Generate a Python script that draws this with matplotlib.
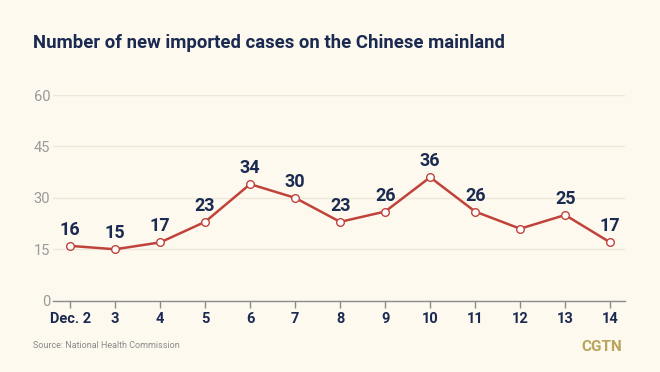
import matplotlib
matplotlib.use('Agg')
import matplotlib.pyplot as plt
from matplotlib import font_manager

# ─── Data ─────────────────────────────────────────────────────────────────────
DAYS   = ['Dec. 2', '3', '4', '5', '6', '7', '8', '9', '10', '11', '12', '13', '14']
CASES  = [16, 15, 17, 23, 34, 30, 23, 26, 36, 26, 21, 25, 17]
SHOWN  = [True] * 10 + [False, True, True]   # day 12 has no label
YTICKS = [0, 15, 30, 45, 60]

# ─── Colours ──────────────────────────────────────────────────────────────────
BG    = '#fdf9ee'
NAVY  = '#1b2a50'
RED   = '#c0433b'
GRID  = '#ede8da'
GREY  = '#9a9a9a'
GOLD  = '#b9a45c'

names = {f.name for f in font_manager.fontManager.ttflist}
NARROW = 'Liberation Sans Narrow' if 'Liberation Sans Narrow' in names else 'Roboto'

plt.rcParams['font.family'] = [NARROW, 'DejaVu Sans']

fig = plt.figure(figsize=(6.6, 3.72), dpi=100)
fig.patch.set_facecolor(BG)
ax = fig.add_axes([0.0803, 0.1917, 0.8667, 0.5529])
ax.set_facecolor(BG)

x = list(range(len(DAYS)))
ax.plot(x, CASES, color=RED, lw=1.8, marker='o', ms=5.5,
        mfc='white', mec=RED, mew=1.0, zorder=3, clip_on=False)

for xi, v, show in zip(x, CASES, SHOWN):
    if show:
        ax.annotate(str(v), (xi, v), xytext=(0, 5), textcoords='offset points',
                    ha='center', va='bottom', fontsize=13, fontweight='bold',
                    color=NAVY)

ax.set_xlim(-0.38, 12.33)
ax.set_ylim(0, 60)
ax.set_yticks(YTICKS)
ax.set_xticks(x)
ax.set_xticklabels(DAYS)
ax.grid(axis='y', color=GRID, lw=1.0, zorder=0)
for s in ('top', 'right', 'left'):
    ax.spines[s].set_visible(False)
ax.spines['bottom'].set_color('#8c8c8c')
ax.spines['bottom'].set_linewidth(1.0)
ax.tick_params(axis='y', length=0, pad=2, labelsize=10.5, labelcolor=GREY)
ax.tick_params(axis='x', length=5, width=1, color='#8c8c8c', pad=3,
               labelsize=10.5, labelcolor=NAVY)
for lab in ax.get_xticklabels():
    lab.set_fontweight('bold')

# ─── Title / footer ───────────────────────────────────────────────────────────
fig.text(33 / 660, 1 - 43 / 372, 'Number of new imported cases on the Chinese mainland',
         ha='left', va='center', fontsize=13.3, fontweight='bold', color=NAVY)
fig.text(33 / 660, 1 - 346 / 372, 'Source: National Health Commission',
         ha='left', va='center', fontsize=6.5, color='#8a8a8a')
fig.text(622 / 660, 1 - 347 / 372, 'CGTN', ha='right', va='center',
         fontsize=11, fontweight='bold', color=GOLD)

fig.savefig('out.png', dpi=100, facecolor=BG)
